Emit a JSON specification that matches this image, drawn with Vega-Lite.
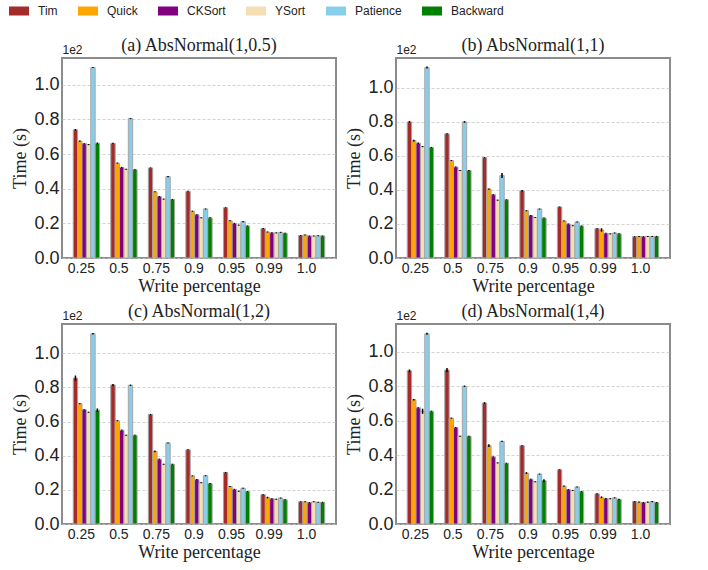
{
  "$schema": "https://vega.github.io/schema/vega-lite/v6.json",
  "padding": {"left": 9, "top": 1, "right": 5, "bottom": 5},
  "background": "white",
  "datasets": {
    "a": [
      {"wp": "0.25", "algo": "Tim", "time": 74, "err": 0.5},
      {"wp": "0.25", "algo": "Quick", "time": 67.5, "err": 0.3},
      {"wp": "0.25", "algo": "CKSort", "time": 66, "err": 0.3},
      {"wp": "0.25", "algo": "YSort", "time": 65.5, "err": 0.3},
      {"wp": "0.25", "algo": "Patience", "time": 110, "err": 0.3},
      {"wp": "0.25", "algo": "Backward", "time": 66.2, "err": 0.5},
      {"wp": "0.5", "algo": "Tim", "time": 66.2, "err": 0.4},
      {"wp": "0.5", "algo": "Quick", "time": 54.8, "err": 0.3},
      {"wp": "0.5", "algo": "CKSort", "time": 52.3, "err": 0.3},
      {"wp": "0.5", "algo": "YSort", "time": 51.2, "err": 0.3},
      {"wp": "0.5", "algo": "Patience", "time": 80.5, "err": 0.3},
      {"wp": "0.5", "algo": "Backward", "time": 51, "err": 0.3},
      {"wp": "0.75", "algo": "Tim", "time": 52, "err": 0.3},
      {"wp": "0.75", "algo": "Quick", "time": 38.2, "err": 0.3},
      {"wp": "0.75", "algo": "CKSort", "time": 35.5, "err": 0.3},
      {"wp": "0.75", "algo": "YSort", "time": 34, "err": 0.3},
      {"wp": "0.75", "algo": "Patience", "time": 47, "err": 0.3},
      {"wp": "0.75", "algo": "Backward", "time": 33.8, "err": 0.3},
      {"wp": "0.9", "algo": "Tim", "time": 38.5, "err": 0.3},
      {"wp": "0.9", "algo": "Quick", "time": 27, "err": 0.3},
      {"wp": "0.9", "algo": "CKSort", "time": 25, "err": 0.3},
      {"wp": "0.9", "algo": "YSort", "time": 23.2, "err": 0.3},
      {"wp": "0.9", "algo": "Patience", "time": 28.3, "err": 0.3},
      {"wp": "0.9", "algo": "Backward", "time": 23.2, "err": 0.3},
      {"wp": "0.95", "algo": "Tim", "time": 29, "err": 0.3},
      {"wp": "0.95", "algo": "Quick", "time": 21.5, "err": 0.3},
      {"wp": "0.95", "algo": "CKSort", "time": 20, "err": 0.3},
      {"wp": "0.95", "algo": "YSort", "time": 19, "err": 0.3},
      {"wp": "0.95", "algo": "Patience", "time": 21, "err": 0.3},
      {"wp": "0.95", "algo": "Backward", "time": 18.5, "err": 0.3},
      {"wp": "0.99", "algo": "Tim", "time": 17, "err": 0.3},
      {"wp": "0.99", "algo": "Quick", "time": 15, "err": 0.3},
      {"wp": "0.99", "algo": "CKSort", "time": 14.5, "err": 0.3},
      {"wp": "0.99", "algo": "YSort", "time": 14.5, "err": 0.3},
      {"wp": "0.99", "algo": "Patience", "time": 14.8, "err": 0.3},
      {"wp": "0.99", "algo": "Backward", "time": 14.3, "err": 0.3},
      {"wp": "1.0", "algo": "Tim", "time": 13, "err": 0.3},
      {"wp": "1.0", "algo": "Quick", "time": 13.3, "err": 0.3},
      {"wp": "1.0", "algo": "CKSort", "time": 12.7, "err": 0.3},
      {"wp": "1.0", "algo": "YSort", "time": 12.7, "err": 0.3},
      {"wp": "1.0", "algo": "Patience", "time": 12.8, "err": 0.3},
      {"wp": "1.0", "algo": "Backward", "time": 12.7, "err": 0.3}
    ],
    "b": [
      {"wp": "0.25", "algo": "Tim", "time": 80, "err": 0.6},
      {"wp": "0.25", "algo": "Quick", "time": 69, "err": 0.5},
      {"wp": "0.25", "algo": "CKSort", "time": 67.5, "err": 0.4},
      {"wp": "0.25", "algo": "YSort", "time": 65.5, "err": 0.3},
      {"wp": "0.25", "algo": "Patience", "time": 112, "err": 0.6},
      {"wp": "0.25", "algo": "Backward", "time": 65, "err": 0.3},
      {"wp": "0.5", "algo": "Tim", "time": 73, "err": 0.4},
      {"wp": "0.5", "algo": "Quick", "time": 57.3, "err": 0.3},
      {"wp": "0.5", "algo": "CKSort", "time": 53.5, "err": 0.3},
      {"wp": "0.5", "algo": "YSort", "time": 51.5, "err": 0.3},
      {"wp": "0.5", "algo": "Patience", "time": 80, "err": 0.5},
      {"wp": "0.5", "algo": "Backward", "time": 51.5, "err": 0.3},
      {"wp": "0.75", "algo": "Tim", "time": 59, "err": 0.3},
      {"wp": "0.75", "algo": "Quick", "time": 40.5, "err": 0.3},
      {"wp": "0.75", "algo": "CKSort", "time": 37.2, "err": 0.3},
      {"wp": "0.75", "algo": "YSort", "time": 34, "err": 0.3},
      {"wp": "0.75", "algo": "Patience", "time": 48.5, "err": 1.5},
      {"wp": "0.75", "algo": "Backward", "time": 34.2, "err": 0.3},
      {"wp": "0.9", "algo": "Tim", "time": 39.5, "err": 0.5},
      {"wp": "0.9", "algo": "Quick", "time": 27.8, "err": 0.3},
      {"wp": "0.9", "algo": "CKSort", "time": 25, "err": 0.3},
      {"wp": "0.9", "algo": "YSort", "time": 23.8, "err": 0.3},
      {"wp": "0.9", "algo": "Patience", "time": 28.8, "err": 0.3},
      {"wp": "0.9", "algo": "Backward", "time": 23.5, "err": 0.3},
      {"wp": "0.95", "algo": "Tim", "time": 30, "err": 0.3},
      {"wp": "0.95", "algo": "Quick", "time": 21.8, "err": 0.3},
      {"wp": "0.95", "algo": "CKSort", "time": 20, "err": 0.3},
      {"wp": "0.95", "algo": "YSort", "time": 19, "err": 0.3},
      {"wp": "0.95", "algo": "Patience", "time": 21.2, "err": 0.3},
      {"wp": "0.95", "algo": "Backward", "time": 18.8, "err": 0.3},
      {"wp": "0.99", "algo": "Tim", "time": 17.2, "err": 0.3},
      {"wp": "0.99", "algo": "Quick", "time": 16.5, "err": 1.0},
      {"wp": "0.99", "algo": "CKSort", "time": 14.5, "err": 0.3},
      {"wp": "0.99", "algo": "YSort", "time": 14.2, "err": 0.3},
      {"wp": "0.99", "algo": "Patience", "time": 14.7, "err": 0.3},
      {"wp": "0.99", "algo": "Backward", "time": 14.2, "err": 0.3},
      {"wp": "1.0", "algo": "Tim", "time": 12.5, "err": 0.3},
      {"wp": "1.0", "algo": "Quick", "time": 12.7, "err": 0.3},
      {"wp": "1.0", "algo": "CKSort", "time": 12.5, "err": 0.3},
      {"wp": "1.0", "algo": "YSort", "time": 12.7, "err": 0.3},
      {"wp": "1.0", "algo": "Patience", "time": 12.7, "err": 0.3},
      {"wp": "1.0", "algo": "Backward", "time": 12.7, "err": 0.3}
    ],
    "c": [
      {"wp": "0.25", "algo": "Tim", "time": 85.5, "err": 1.5},
      {"wp": "0.25", "algo": "Quick", "time": 70.5, "err": 0.3},
      {"wp": "0.25", "algo": "CKSort", "time": 67, "err": 0.3},
      {"wp": "0.25", "algo": "YSort", "time": 65.5, "err": 0.3},
      {"wp": "0.25", "algo": "Patience", "time": 111.5, "err": 0.4},
      {"wp": "0.25", "algo": "Backward", "time": 66.7, "err": 1.0},
      {"wp": "0.5", "algo": "Tim", "time": 81.5, "err": 0.6},
      {"wp": "0.5", "algo": "Quick", "time": 60.5, "err": 0.3},
      {"wp": "0.5", "algo": "CKSort", "time": 55, "err": 0.3},
      {"wp": "0.5", "algo": "YSort", "time": 52, "err": 0.3},
      {"wp": "0.5", "algo": "Patience", "time": 81.3, "err": 0.4},
      {"wp": "0.5", "algo": "Backward", "time": 52, "err": 0.3},
      {"wp": "0.75", "algo": "Tim", "time": 64.2, "err": 0.3},
      {"wp": "0.75", "algo": "Quick", "time": 42.5, "err": 0.5},
      {"wp": "0.75", "algo": "CKSort", "time": 38, "err": 0.3},
      {"wp": "0.75", "algo": "YSort", "time": 35, "err": 0.3},
      {"wp": "0.75", "algo": "Patience", "time": 47.5, "err": 0.3},
      {"wp": "0.75", "algo": "Backward", "time": 35, "err": 0.3},
      {"wp": "0.9", "algo": "Tim", "time": 43.5, "err": 0.3},
      {"wp": "0.9", "algo": "Quick", "time": 28.2, "err": 0.3},
      {"wp": "0.9", "algo": "CKSort", "time": 26, "err": 0.3},
      {"wp": "0.9", "algo": "YSort", "time": 24.2, "err": 0.3},
      {"wp": "0.9", "algo": "Patience", "time": 28.3, "err": 0.3},
      {"wp": "0.9", "algo": "Backward", "time": 23.7, "err": 0.3},
      {"wp": "0.95", "algo": "Tim", "time": 30.2, "err": 0.3},
      {"wp": "0.95", "algo": "Quick", "time": 22, "err": 0.3},
      {"wp": "0.95", "algo": "CKSort", "time": 20.3, "err": 0.3},
      {"wp": "0.95", "algo": "YSort", "time": 19.2, "err": 0.3},
      {"wp": "0.95", "algo": "Patience", "time": 21, "err": 0.3},
      {"wp": "0.95", "algo": "Backward", "time": 19, "err": 0.3},
      {"wp": "0.99", "algo": "Tim", "time": 17.2, "err": 0.3},
      {"wp": "0.99", "algo": "Quick", "time": 15.5, "err": 0.5},
      {"wp": "0.99", "algo": "CKSort", "time": 14.8, "err": 0.3},
      {"wp": "0.99", "algo": "YSort", "time": 14.5, "err": 0.3},
      {"wp": "0.99", "algo": "Patience", "time": 15.2, "err": 0.3},
      {"wp": "0.99", "algo": "Backward", "time": 14.2, "err": 0.3},
      {"wp": "1.0", "algo": "Tim", "time": 13, "err": 0.3},
      {"wp": "1.0", "algo": "Quick", "time": 13, "err": 0.3},
      {"wp": "1.0", "algo": "CKSort", "time": 12.5, "err": 0.3},
      {"wp": "1.0", "algo": "YSort", "time": 13, "err": 0.3},
      {"wp": "1.0", "algo": "Patience", "time": 12.7, "err": 0.3},
      {"wp": "1.0", "algo": "Backward", "time": 12.7, "err": 0.3}
    ],
    "d": [
      {"wp": "0.25", "algo": "Tim", "time": 89, "err": 0.8},
      {"wp": "0.25", "algo": "Quick", "time": 72.2, "err": 0.4},
      {"wp": "0.25", "algo": "CKSort", "time": 67.5, "err": 0.3},
      {"wp": "0.25", "algo": "YSort", "time": 65.5, "err": 1.5},
      {"wp": "0.25", "algo": "Patience", "time": 110.5, "err": 0.6},
      {"wp": "0.25", "algo": "Backward", "time": 65.5, "err": 0.3},
      {"wp": "0.5", "algo": "Tim", "time": 89.5, "err": 1.2},
      {"wp": "0.5", "algo": "Quick", "time": 61.5, "err": 0.3},
      {"wp": "0.5", "algo": "CKSort", "time": 56, "err": 0.3},
      {"wp": "0.5", "algo": "YSort", "time": 51, "err": 0.3},
      {"wp": "0.5", "algo": "Patience", "time": 80, "err": 0.4},
      {"wp": "0.5", "algo": "Backward", "time": 51, "err": 0.3},
      {"wp": "0.75", "algo": "Tim", "time": 70.3, "err": 0.5},
      {"wp": "0.75", "algo": "Quick", "time": 45.5, "err": 0.8},
      {"wp": "0.75", "algo": "CKSort", "time": 39, "err": 0.3},
      {"wp": "0.75", "algo": "YSort", "time": 35.5, "err": 0.3},
      {"wp": "0.75", "algo": "Patience", "time": 48, "err": 0.3},
      {"wp": "0.75", "algo": "Backward", "time": 35.3, "err": 0.3},
      {"wp": "0.9", "algo": "Tim", "time": 45.5, "err": 0.3},
      {"wp": "0.9", "algo": "Quick", "time": 29.6, "err": 0.5},
      {"wp": "0.9", "algo": "CKSort", "time": 26, "err": 0.3},
      {"wp": "0.9", "algo": "YSort", "time": 24.5, "err": 0.3},
      {"wp": "0.9", "algo": "Patience", "time": 29, "err": 0.3},
      {"wp": "0.9", "algo": "Backward", "time": 25.2, "err": 0.8},
      {"wp": "0.95", "algo": "Tim", "time": 31.5, "err": 0.3},
      {"wp": "0.95", "algo": "Quick", "time": 22, "err": 0.3},
      {"wp": "0.95", "algo": "CKSort", "time": 20, "err": 0.3},
      {"wp": "0.95", "algo": "YSort", "time": 19.5, "err": 0.3},
      {"wp": "0.95", "algo": "Patience", "time": 21.5, "err": 0.3},
      {"wp": "0.95", "algo": "Backward", "time": 18.8, "err": 0.3},
      {"wp": "0.99", "algo": "Tim", "time": 17.5, "err": 0.3},
      {"wp": "0.99", "algo": "Quick", "time": 15.5, "err": 0.5},
      {"wp": "0.99", "algo": "CKSort", "time": 14.8, "err": 0.3},
      {"wp": "0.99", "algo": "YSort", "time": 14.7, "err": 0.3},
      {"wp": "0.99", "algo": "Patience", "time": 15.2, "err": 0.3},
      {"wp": "0.99", "algo": "Backward", "time": 14.3, "err": 0.3},
      {"wp": "1.0", "algo": "Tim", "time": 13, "err": 0.3},
      {"wp": "1.0", "algo": "Quick", "time": 12.7, "err": 0.3},
      {"wp": "1.0", "algo": "CKSort", "time": 12.5, "err": 0.3},
      {"wp": "1.0", "algo": "YSort", "time": 12.7, "err": 0.3},
      {"wp": "1.0", "algo": "Patience", "time": 13, "err": 0.3},
      {"wp": "1.0", "algo": "Backward", "time": 12.5, "err": 0.3}
    ]
  },
  "columns": 2,
  "spacing": {"column": 60, "row": 66},
  "bounds": "flush",
  "concat": [
    {
      "data": {"name": "a"},
      "title": {"text": "(a) AbsNormal(1,0.5)"},
      "width": 274, "height": 200,
      "resolve": {"axis": {"x": "independent"}},
      "layer": [
        {
          "mark": {"type": "bar", "stroke": "#a6a6a6", "strokeWidth": 1},
          "encoding": {
            "x": {"field": "wp", "type": "nominal", "sort": ["0.25","0.5","0.75","0.9","0.95","0.99","1.0"], "scale": {"paddingInner": 0.3, "paddingOuter": 0.3}, "axis": {"title": "Write percentage", "labelAngle": 0, "labelOffset": -5}},
            "xOffset": {"field": "algo", "type": "nominal", "sort": ["Tim","Quick","CKSort","YSort","Patience","Backward"]},
            "y": {"field": "time", "type": "quantitative", "title": "Time (s)", "scale": {"domain": [0, 115.5], "nice": false}, "axis": {"title": "Time (s)", "values": [0,20,40,60,80,100], "labelOverlap": false, "labelExpr": "format(datum.value/100, '.1f')"}},
            "color": {"field": "algo", "type": "nominal", "sort": ["Tim","Quick","CKSort","YSort","Patience","Backward"], "scale": {"domain": ["Tim","Quick","CKSort","YSort","Patience","Backward"], "range": ["#a52a2a","#ffa500","#800080","#f5deb3","#87ceeb","#008000"]}, "legend": {"orient": "none", "legendX": -53, "legendY": -57, "direction": "horizontal", "title": null, "columnPadding": 20, "symbolType": "M-1,-0.45L1,-0.45L1,0.45L-1,0.45Z", "symbolSize": 400, "symbolStrokeWidth": 0, "labelFont": "Liberation Sans", "labelFontSize": 12, "labelOffset": 9, "labelColor": "#222"}}
          }
        },
        {
          "mark": {"type": "errorbar", "color": "black", "thickness": 1.5},
          "encoding": {
            "x": {"field": "wp", "type": "nominal", "sort": ["0.25","0.5","0.75","0.9","0.95","0.99","1.0"], "axis": {"orient": "top", "title": "1e2", "labels": false, "ticks": false, "domain": false, "titleAnchor": "start", "titleAlign": "left", "titleFont": "Liberation Sans", "titleFontSize": 12, "titlePadding": 2, "titleColor": "#222"}},
            "xOffset": {"field": "algo", "type": "nominal", "sort": ["Tim","Quick","CKSort","YSort","Patience","Backward"]},
            "y": {"field": "time", "type": "quantitative", "title": "Time (s)", "axis": {"title": "Time (s)", "values": [0,20,40,60,80,100], "labelOverlap": false, "labelExpr": "format(datum.value/100, '.1f')"}},
            "yError": {"field": "err"}
          }
        }
      ]
    },
    {
      "data": {"name": "b"},
      "title": {"text": "(b) AbsNormal(1,1)"},
      "width": 274, "height": 200,
      "resolve": {"axis": {"x": "independent"}},
      "layer": [
        {
          "mark": {"type": "bar", "stroke": "#a6a6a6", "strokeWidth": 1},
          "encoding": {
            "x": {"field": "wp", "type": "nominal", "sort": ["0.25","0.5","0.75","0.9","0.95","0.99","1.0"], "scale": {"paddingInner": 0.3, "paddingOuter": 0.3}, "axis": {"title": "Write percentage", "labelAngle": 0, "labelOffset": -5}},
            "xOffset": {"field": "algo", "type": "nominal", "sort": ["Tim","Quick","CKSort","YSort","Patience","Backward"]},
            "y": {"field": "time", "type": "quantitative", "title": "Time (s)", "scale": {"domain": [0, 117.6], "nice": false}, "axis": {"title": "Time (s)", "values": [0,20,40,60,80,100], "labelOverlap": false, "labelExpr": "format(datum.value/100, '.1f')"}},
            "color": {"field": "algo", "type": "nominal", "sort": ["Tim","Quick","CKSort","YSort","Patience","Backward"]}
          }
        },
        {
          "mark": {"type": "errorbar", "color": "black", "thickness": 1.5},
          "encoding": {
            "x": {"field": "wp", "type": "nominal", "sort": ["0.25","0.5","0.75","0.9","0.95","0.99","1.0"], "axis": {"orient": "top", "title": "1e2", "labels": false, "ticks": false, "domain": false, "titleAnchor": "start", "titleAlign": "left", "titleFont": "Liberation Sans", "titleFontSize": 12, "titlePadding": 2, "titleColor": "#222"}},
            "xOffset": {"field": "algo", "type": "nominal", "sort": ["Tim","Quick","CKSort","YSort","Patience","Backward"]},
            "y": {"field": "time", "type": "quantitative", "title": "Time (s)", "axis": {"title": "Time (s)", "values": [0,20,40,60,80,100], "labelOverlap": false, "labelExpr": "format(datum.value/100, '.1f')"}},
            "yError": {"field": "err"}
          }
        }
      ]
    },
    {
      "data": {"name": "c"},
      "title": {"text": "(c) AbsNormal(1,2)"},
      "width": 274, "height": 200,
      "resolve": {"axis": {"x": "independent"}},
      "layer": [
        {
          "mark": {"type": "bar", "stroke": "#a6a6a6", "strokeWidth": 1},
          "encoding": {
            "x": {"field": "wp", "type": "nominal", "sort": ["0.25","0.5","0.75","0.9","0.95","0.99","1.0"], "scale": {"paddingInner": 0.3, "paddingOuter": 0.3}, "axis": {"title": "Write percentage", "labelAngle": 0, "labelOffset": -5}},
            "xOffset": {"field": "algo", "type": "nominal", "sort": ["Tim","Quick","CKSort","YSort","Patience","Backward"]},
            "y": {"field": "time", "type": "quantitative", "title": "Time (s)", "scale": {"domain": [0, 117.2], "nice": false}, "axis": {"title": "Time (s)", "values": [0,20,40,60,80,100], "labelOverlap": false, "labelExpr": "format(datum.value/100, '.1f')"}},
            "color": {"field": "algo", "type": "nominal", "sort": ["Tim","Quick","CKSort","YSort","Patience","Backward"]}
          }
        },
        {
          "mark": {"type": "errorbar", "color": "black", "thickness": 1.5},
          "encoding": {
            "x": {"field": "wp", "type": "nominal", "sort": ["0.25","0.5","0.75","0.9","0.95","0.99","1.0"], "axis": {"orient": "top", "title": "1e2", "labels": false, "ticks": false, "domain": false, "titleAnchor": "start", "titleAlign": "left", "titleFont": "Liberation Sans", "titleFontSize": 12, "titlePadding": 2, "titleColor": "#222"}},
            "xOffset": {"field": "algo", "type": "nominal", "sort": ["Tim","Quick","CKSort","YSort","Patience","Backward"]},
            "y": {"field": "time", "type": "quantitative", "title": "Time (s)", "axis": {"title": "Time (s)", "values": [0,20,40,60,80,100], "labelOverlap": false, "labelExpr": "format(datum.value/100, '.1f')"}},
            "yError": {"field": "err"}
          }
        }
      ]
    },
    {
      "data": {"name": "d"},
      "title": {"text": "(d) AbsNormal(1,4)"},
      "width": 274, "height": 200,
      "resolve": {"axis": {"x": "independent"}},
      "layer": [
        {
          "mark": {"type": "bar", "stroke": "#a6a6a6", "strokeWidth": 1},
          "encoding": {
            "x": {"field": "wp", "type": "nominal", "sort": ["0.25","0.5","0.75","0.9","0.95","0.99","1.0"], "scale": {"paddingInner": 0.3, "paddingOuter": 0.3}, "axis": {"title": "Write percentage", "labelAngle": 0, "labelOffset": -5}},
            "xOffset": {"field": "algo", "type": "nominal", "sort": ["Tim","Quick","CKSort","YSort","Patience","Backward"]},
            "y": {"field": "time", "type": "quantitative", "title": "Time (s)", "scale": {"domain": [0, 116.2], "nice": false}, "axis": {"title": "Time (s)", "values": [0,20,40,60,80,100], "labelOverlap": false, "labelExpr": "format(datum.value/100, '.1f')"}},
            "color": {"field": "algo", "type": "nominal", "sort": ["Tim","Quick","CKSort","YSort","Patience","Backward"]}
          }
        },
        {
          "mark": {"type": "errorbar", "color": "black", "thickness": 1.5},
          "encoding": {
            "x": {"field": "wp", "type": "nominal", "sort": ["0.25","0.5","0.75","0.9","0.95","0.99","1.0"], "axis": {"orient": "top", "title": "1e2", "labels": false, "ticks": false, "domain": false, "titleAnchor": "start", "titleAlign": "left", "titleFont": "Liberation Sans", "titleFontSize": 12, "titlePadding": 2, "titleColor": "#222"}},
            "xOffset": {"field": "algo", "type": "nominal", "sort": ["Tim","Quick","CKSort","YSort","Patience","Backward"]},
            "y": {"field": "time", "type": "quantitative", "title": "Time (s)", "axis": {"title": "Time (s)", "values": [0,20,40,60,80,100], "labelOverlap": false, "labelExpr": "format(datum.value/100, '.1f')"}},
            "yError": {"field": "err"}
          }
        }
      ]
    }
  ],
  "resolve": {"scale": {"y": "independent", "x": "independent"}},
  "config": {
    "view": {"stroke": "#8c8c8c", "strokeWidth": 2},
    "title": {"font": "Liberation Serif", "fontSize": 18, "fontWeight": "normal", "color": "#222", "offset": -12},
    "axis": {"labelFont": "Liberation Sans", "labelColor": "#222", "titleFont": "Liberation Serif", "titleFontSize": 18, "titleFontWeight": "normal", "titleColor": "#222", "ticks": false, "domain": false, "grid": false},
    "axisX": {"labelFontSize": 14, "labelPadding": 3, "titlePadding": 2},
    "axisY": {"labelFontSize": 18, "labelPadding": 3, "titlePadding": 4, "grid": true, "gridDash": [3, 2], "gridColor": "#c8c8c8", "gridWidth": 0.8},
    "scale": {"offsetBandPaddingInner": 0}
  }
}
